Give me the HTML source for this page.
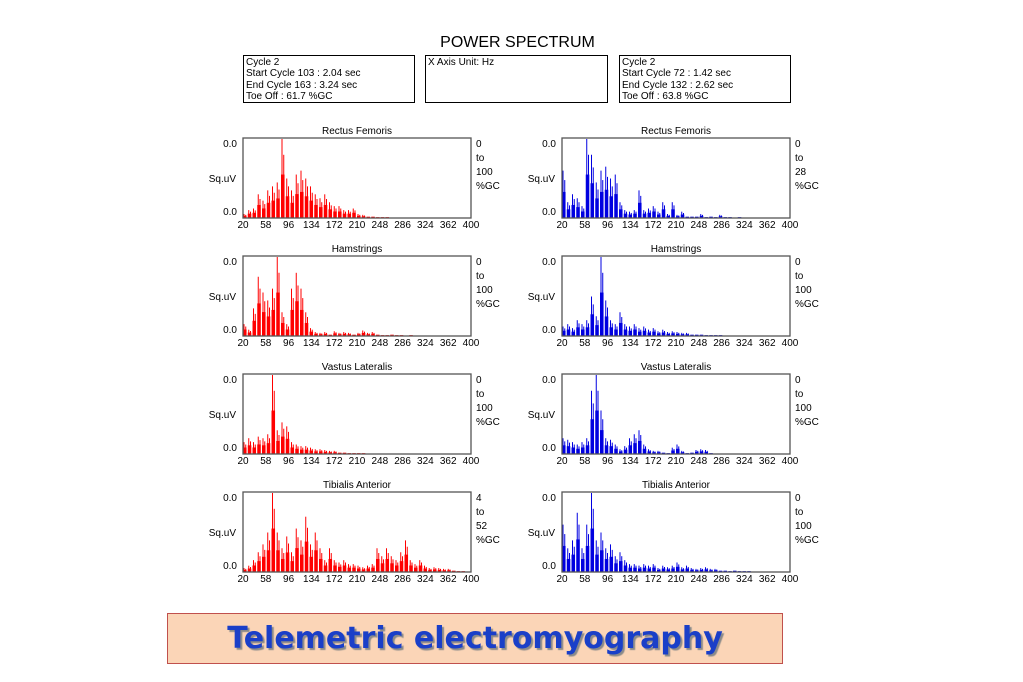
<!DOCTYPE html>
<html><head><meta charset="utf-8"><style>
body{margin:0;width:1023px;height:682px;background:#fff;position:relative;overflow:hidden;font-family:"Liberation Sans",Arial,sans-serif;}
.abs{position:absolute}
.box{position:absolute;border:1px solid #000;font-size:10px;line-height:11.3px;padding:1px 2px;box-sizing:border-box;color:#000}
#title{position:absolute;left:0;width:1035px;text-align:center;top:34px;font-size:16px;}
#banner{position:absolute;left:167px;top:613px;width:616px;height:51px;background:#fbd5b7;border:1px solid #c0504d;box-sizing:border-box;text-align:center;font-family:"DejaVu Sans",sans-serif;font-weight:bold;font-size:30px;line-height:49px;color:#1a3fc8;text-shadow:2px 2px 1px #8a8a8a;}
</style></head><body>
<div id="title">POWER SPECTRUM</div>
<div class="box" style="left:243px;top:55px;width:172px;height:48px">Cycle 2<br>Start Cycle 103 : 2.04 sec<br>End Cycle 163 : 3.24 sec<br>Toe Off : 61.7 %GC</div>
<div class="box" style="left:425px;top:55px;width:183px;height:48px">X Axis Unit: Hz</div>
<div class="box" style="left:619px;top:55px;width:172px;height:48px">Cycle 2<br>Start Cycle 72 : 1.42 sec<br>End Cycle 132 : 2.62 sec<br>Toe Off : 63.8 %GC</div>
<svg id="svg" class="abs" style="left:0;top:0" width="1023" height="682"></svg>
<div id="banner">Telemetric electromyography</div>
<script>
const tickLabels=["20","58","96","134","172","210","248","286","324","362","400"];
const muscles=["Rectus Femoris","Hamstrings","Vastus Lateralis","Tibialis Anterior"];
const leftRange=[["0","100"],["0","100"],["0","100"],["4","52"]];
const rightRange=[["0","28"],["0","100"],["0","100"],["0","100"]];
// 48 bins from 20 to 400 Hz, normalized power
const leftRF=[0.05,0.1,0.12,0.3,0.22,0.35,0.4,0.45,1.0,0.5,0.35,0.55,0.6,0.5,0.4,0.3,0.25,0.3,0.2,0.15,0.15,0.1,0.1,0.12,0.05,0.04,0.03,0.03,0.02,0.02,0.02,0.01,0.01,0.01,0.01,0.01,0,0,0,0,0,0,0,0,0,0,0,0];
const rightRF=[0.6,0.2,0.3,0.25,0.15,1.0,0.8,0.45,0.6,0.65,0.5,0.55,0.2,0.1,0.08,0.1,0.35,0.1,0.12,0.15,0.08,0.2,0.05,0.2,0.04,0.08,0.03,0.03,0.03,0.05,0.02,0.03,0.02,0.04,0.02,0.02,0.01,0.02,0.01,0,0,0,0,0,0,0,0,0];
const leftHam=[0.15,0.08,0.35,0.75,0.55,0.45,0.6,1.0,0.3,0.15,0.6,0.8,0.6,0.3,0.1,0.05,0.04,0.05,0.03,0.06,0.04,0.05,0.04,0.03,0.04,0.07,0.04,0.05,0.03,0.02,0.02,0.03,0.02,0.02,0.01,0.02,0.01,0.01,0.01,0,0,0,0,0,0,0,0,0];
const rightHam=[0.12,0.15,0.1,0.2,0.15,0.2,0.5,0.25,1.0,0.45,0.2,0.15,0.3,0.15,0.12,0.15,0.1,0.12,0.08,0.1,0.06,0.08,0.05,0.06,0.05,0.04,0.04,0.03,0.03,0.03,0.02,0.02,0.02,0.02,0.01,0.01,0.01,0.01,0.01,0,0,0,0,0,0,0,0,0];
const leftVL=[0.15,0.2,0.15,0.22,0.2,0.25,1.0,0.3,0.4,0.35,0.15,0.12,0.1,0.1,0.08,0.06,0.06,0.05,0.04,0.04,0.03,0.03,0.02,0.02,0.02,0.02,0.01,0.01,0.01,0.01,0.01,0.01,0,0,0,0,0,0,0,0,0,0,0,0,0,0,0,0];
const rightVL=[0.2,0.18,0.15,0.12,0.15,0.2,0.8,1.0,0.55,0.2,0.18,0.12,0.06,0.1,0.2,0.25,0.3,0.12,0.06,0.04,0.04,0.03,0.02,0.08,0.12,0.04,0.02,0.03,0.05,0.06,0.05,0.02,0,0,0,0,0,0,0,0,0,0,0,0,0,0,0,0];
const leftTA=[0.05,0.08,0.15,0.25,0.35,0.5,1.0,0.5,0.3,0.45,0.25,0.55,0.4,0.7,0.35,0.5,0.3,0.15,0.3,0.15,0.12,0.15,0.1,0.1,0.08,0.06,0.08,0.1,0.3,0.2,0.3,0.2,0.15,0.25,0.4,0.15,0.1,0.15,0.08,0.05,0.06,0.05,0.04,0.04,0.03,0.02,0.02,0.01];
const rightTA=[0.6,0.3,0.4,0.75,0.3,0.6,1.0,0.4,0.5,0.3,0.35,0.2,0.25,0.15,0.1,0.1,0.08,0.1,0.08,0.1,0.05,0.08,0.06,0.08,0.12,0.06,0.08,0.05,0.04,0.05,0.06,0.04,0.04,0.03,0.03,0.02,0.03,0.02,0.02,0.02,0.01,0.01,0.01,0.01,0,0,0,0];
const leftSeries=[leftRF,leftHam,leftVL,leftTA];
const rightSeries=[rightRF,rightHam,rightVL,rightTA];
const xMin=20,xMax=400;
const svg=document.getElementById('svg');
const NS='http://www.w3.org/2000/svg';
function mk(tag,attrs,parent){const e=document.createElementNS(NS,tag);for(const k in attrs)e.setAttribute(k,attrs[k]);parent.appendChild(e);return e;}
function txt(x,y,s,anchor,parent){const t=mk('text',{x:x,y:y,'font-size':'10','text-anchor':anchor,'font-family':'Liberation Sans, Arial, sans-serif',fill:'#000'},parent);t.textContent=s;return t;}
function drawChart(px,py,w,h,vals,color,title,range,side,idx){
  const g=mk('g',{},svg);
  
  
  const xs=v=>px+(v-xMin)/(xMax-xMin)*w;
  const ys=v=>py+h-v*(h-1);
  const t=txt(px+w/2,py-4,title,'middle',g);
  
  
  const bw=(xMax-xMin)/vals.length;
  vals.forEach((v,i)=>{
    const x0=xs(xMin+i*bw),x1=xs(xMin+(i+1)*bw);
    const fillV=v*0.55;
    const r=mk('rect',{x:x0,y:ys(fillV),width:Math.max(0.5,x1-x0-1.2),height:py+h-ys(fillV),fill:color},g);
    
    
    if(v>0.03){const l=mk('line',{x1:x0+1,x2:x0+1,y1:ys(v),y2:py+h,stroke:color,'stroke-width':1},g);
      
      
      const l2=mk('line',{x1:x1-2,x2:x1-2,y1:ys(v*0.8),y2:py+h,stroke:color,'stroke-width':1},g);
      
      }
  });
  const f=mk('rect',{x:px,y:py,width:w,height:h,fill:'none',stroke:'#555','stroke-width':1.3},g);
  
  
  tickLabels.forEach(s=>{const tl=txt(xs(+s),py+h+10,s,'middle',g);
    
    });
  const a=txt(px-6,py+9,'0.0','end',g);
  const b=txt(px-6,py+h-3,'0.0','end',g);
  const u=txt(px-7,py+h/2+4,'Sq.uV','end',g);
  [range[0],'to',range[1],'%GC'].forEach((s,k)=>{const r=txt(px+w+5,py+9+k*14,s,'start',g);
    
    });
}
const tops=[138,256,374,492];
for(let i=0;i<4;i++){
  drawChart(243,tops[i],228,80,leftSeries[i],'#ff0000',muscles[i],leftRange[i],'left',i);
  drawChart(562,tops[i],228,80,rightSeries[i],'#0000e0',muscles[i],rightRange[i],'right',i);
}
</script>
</body></html>
